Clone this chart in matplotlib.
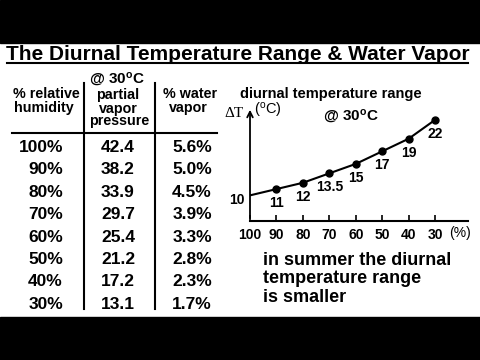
import matplotlib
matplotlib.use("Agg")
import matplotlib.pyplot as plt

plt.rcParams["font.family"] = ["Liberation Sans", "DejaVu Sans"]
plt.rcParams["mathtext.fontset"] = "custom"
plt.rcParams["mathtext.rm"] = "Liberation Sans:bold"
plt.rcParams["mathtext.it"] = "Liberation Sans:bold"
plt.rcParams["mathtext.bf"] = "Liberation Sans:bold"
plt.rcParams["mathtext.sf"] = "Liberation Sans"

# table data
humidity = ["100%", "90%", "80%", "70%", "60%", "50%", "40%", "30%"]
vapor_pressure = ["42.4", "38.2", "33.9", "29.7", "25.4", "21.2", "17.2", "13.1"]
water_vapor = ["5.6%", "5.0%", "4.5%", "3.9%", "3.3%", "2.8%", "2.3%", "1.7%"]

# diurnal temperature range chart
rh = [100, 90, 80, 70, 60, 50, 40, 30]
dtr = [10, 11, 12, 13.5, 15, 17, 19, 22]
dtr_labels = ["10", "11", "12", "13.5", "15", "17", "19", "22"]
xticks = [100, 90, 80, 70, 60, 50, 40, 30]

W, H = 480, 360
fig = plt.figure(figsize=(W / 100, H / 100), dpi=100)
fig.patch.set_facecolor("white")


def px(x, y):
    return x / W, 1 - y / H


def ftext(x, y, s, **kw):
    kw.setdefault("fontweight", "bold")
    kw.setdefault("va", "baseline")
    fig.text(*px(x, y), s, **kw)


# letterbox bars
fig.add_artist(plt.Rectangle(px(0, 43), 1, 43 / H, transform=fig.transFigure, color="black"))
fig.add_artist(plt.Rectangle(px(0, 360), 1, 43 / H, transform=fig.transFigure, color="black"))

# title
ftext(237.5, 60, "The Diurnal Temperature Range & Water Vapor", fontsize=15, ha="center")
fig.add_artist(plt.Line2D([7 / W, 468 / W], [1 - 63 / H] * 2, color="black", lw=1.5))

# table headers
ftext(117, 83, r"@ 30$^{\rm o}$C", fontsize=11, ha="center")
ftext(46, 98, "% relative", fontsize=10.3, ha="center")
ftext(44, 112, "humidity", fontsize=10.3, ha="center")
ftext(118, 99, "partial", fontsize=10.3, ha="center")
ftext(118, 112.5, "vapor", fontsize=10.3, ha="center")
ftext(119, 125, "pressure", fontsize=10.3, ha="center")
ftext(190, 98, "% water", fontsize=10.3, ha="center")
ftext(188, 112, "vapor", fontsize=10.3, ha="center")

# table lines
fig.add_artist(plt.Line2D([12 / W, 217 / W], [1 - 133 / H] * 2, color="black", lw=1.5))
for xl in (84, 155):
    fig.add_artist(plt.Line2D([xl / W] * 2, [1 - 83 / H, 1 - 309 / H], color="black", lw=1.5))

# table rows
for i in range(len(humidity)):
    yr = 152 + i * 22.4
    ftext(63, yr, humidity[i], fontsize=12.5, ha="right")
    ftext(118, yr, vapor_pressure[i], fontsize=12.5, ha="center")
    ftext(212, yr, water_vapor[i], fontsize=12.5, ha="right")

# chart
ax = fig.add_axes([250 / W, 1 - 221 / H, 218 / W, 114 / H])
ax.plot(rh, dtr, "-o", color="black", lw=1.5, ms=5, markevery=slice(1, None))
ax.set_xlim(100, 17.6)
ax.set_ylim(5.93, 24.03)
ax.set_xticks(xticks)
ax.set_xticklabels([str(v) for v in xticks], fontweight="bold", fontsize=10)
ax.tick_params(axis="x", direction="in", length=4, width=1.2, pad=5)
ax.set_yticks([])
for side in ("top", "right", "left"):
    ax.spines[side].set_visible(False)
ax.spines["bottom"].set_linewidth(1.5)
ax.annotate("", xy=(0, 1.0), xytext=(0, 0), xycoords="axes fraction",
            arrowprops=dict(arrowstyle="->", lw=1.3, color="black"))
ax.patch.set_alpha(0)

for i in range(1, len(rh)):
    ax.annotate(dtr_labels[i], (rh[i], dtr[i]), xytext=(0, -10), textcoords="offset points",
                ha="center", va="center", fontsize=10, fontweight="bold")
ax.annotate(dtr_labels[0], (rh[0], dtr[0]), xytext=(-4, -3.5), textcoords="offset points",
            ha="right", va="center", fontsize=10, fontweight="bold")

ftext(331, 98, "diurnal temperature range", fontsize=10.5, ha="center")
ftext(234, 117, "ΔT", fontsize=11, ha="center", family="Liberation Serif", fontweight="normal")
ftext(268, 115, r"($^{\mathsf{o}}$C)", fontsize=10.5, ha="center", fontweight="normal")
ftext(351, 120, r"@ 30$^{\rm o}$C", fontsize=11, ha="center")
ftext(460, 237, "(%)", fontsize=10, ha="center", fontweight="normal")

ftext(263, 265, "in summer the diurnal", fontsize=13, ha="left")
ftext(263, 283, "temperature range", fontsize=13, ha="left")
ftext(263, 302, "is smaller", fontsize=13, ha="left")

fig.savefig("out.png", dpi=100, facecolor="white")
